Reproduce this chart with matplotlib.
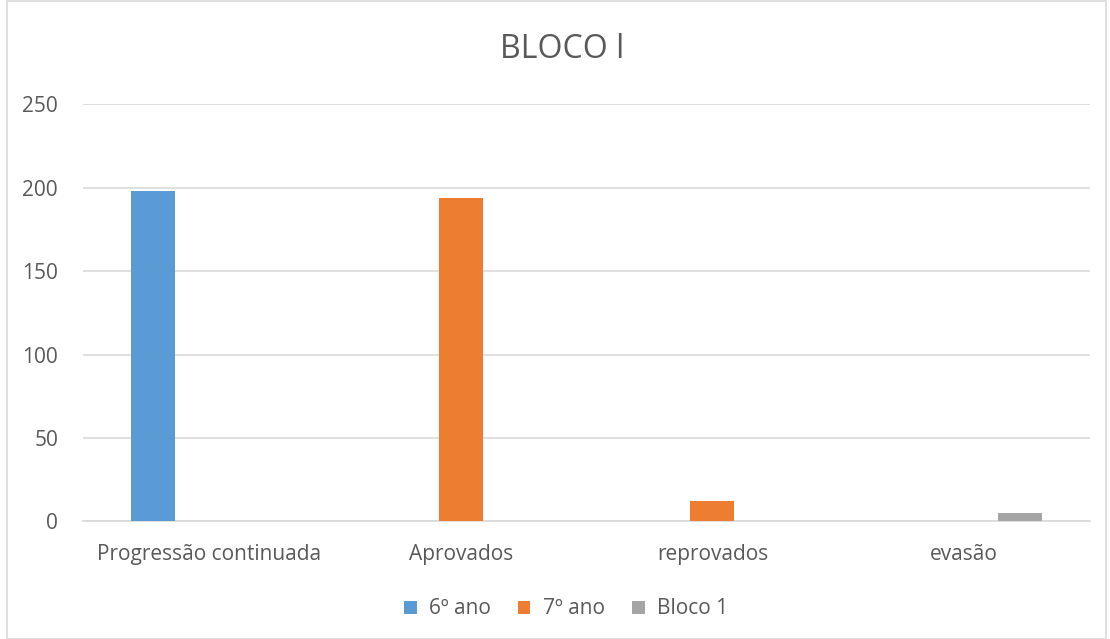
import matplotlib
matplotlib.use("Agg")
import matplotlib.pyplot as plt
from matplotlib.patches import Rectangle
import numpy as np

categories = ["Progressão continuada", "Aprovados", "reprovados", "evasão"]
series_names = ["6º ano", "7º ano", "Bloco 1"]
sexto_ano = [198, 0, 0, 0]
setimo_ano = [0, 194, 12, 0]
bloco_1 = [0, 0, 0, 5]
colors = ["#5B9BD5", "#ED7D31", "#A5A5A5"]

plt.rcParams["font.family"] = ["Open Sans", "DejaVu Sans"]
text_color = "#595959"

fig = plt.figure(figsize=(11.1, 6.39), dpi=100)
ax = fig.add_axes([0.0748, 0.1839, 0.9072, 0.6533])

x = np.arange(len(categories))
width = 0.175
offset = 0.221
for i, (vals, name) in enumerate(zip([sexto_ano, setimo_ano, bloco_1], series_names)):
    ax.bar(x + (i - 1) * offset, vals, width=width, color=colors[i], label=name, zorder=3)

ax.set_xlim(-0.5, len(categories) - 0.5)
ax.set_ylim(0, 250)
ax.set_yticks([0, 50, 100, 150, 200, 250])
ax.grid(axis="y", color="#D9D9D9", linewidth=1.2, zorder=0)
for s in ["top", "right", "left"]:
    ax.spines[s].set_visible(False)
ax.spines["bottom"].set_color("#D9D9D9")
ax.spines["bottom"].set_linewidth(1.2)
ax.tick_params(axis="both", length=0, colors=text_color, labelsize=15)
ax.tick_params(axis="y", pad=18)
ax.tick_params(axis="x", pad=16)
ax.set_xticks(x)
ax.set_xticklabels(categories)

fig.text(0.506, 0.922, "BLOCO l", ha="center", va="center", fontsize=23, color=text_color)

leg = fig.legend(loc="center", bbox_to_anchor=(0.510, 0.047), ncol=3, frameon=False,
                 fontsize=15, labelcolor=text_color, handlelength=0.6, handleheight=0.6,
                 handletextpad=0.6, columnspacing=1.3)

fig.patches.append(Rectangle((0.006, 0.0), 0.99, 0.998, transform=fig.transFigure,
                             fill=False, edgecolor="#D9D9D9", linewidth=1.2))

fig.savefig("out.png", dpi=100)
